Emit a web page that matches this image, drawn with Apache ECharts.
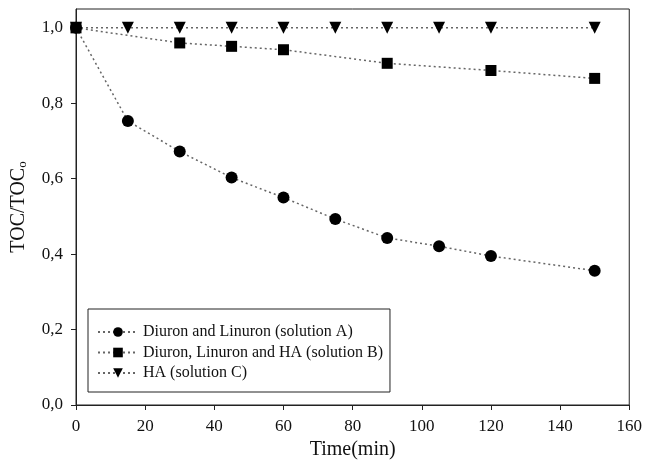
<!DOCTYPE html>
<html><head><meta charset="utf-8">
<script src="https://cdn.jsdelivr.net/npm/echarts@6/dist/echarts.min.js"></script>
<style>html,body{margin:0;padding:0;background:#fff}#c{width:645px;height:465px}</style>
</head><body><div id="c"></div>
<script>
const timeA = [0, 15, 30, 45, 60, 75, 90, 105, 120, 150];
const valuesA = [1.0, 0.753, 0.672, 0.603, 0.550, 0.493, 0.443, 0.421, 0.395, 0.356];
const timeB = [0, 30, 45, 60, 90, 120, 150];
const valuesB = [1.0, 0.960, 0.951, 0.942, 0.906, 0.887, 0.866];
const timeC = [0, 15, 30, 45, 60, 75, 90, 105, 120, 150];
const valuesC = [1.0, 1.0, 1.0, 1.0, 1.0, 1.0, 1.0, 1.0, 1.0, 1.0];
const seriesNames = ['Diuron and Linuron (solution A)', 'Diuron, Linuron and HA (solution B)', 'HA (solution C)'];
const yTicks = [0, 0.2, 0.4, 0.6, 0.8, 1.0];
const xTicks = [0, 20, 40, 60, 80, 100, 120, 140, 160];

const font = 'Liberation Serif';
const zip = (t, v) => t.map((x, i) => [x, v[i]]);
const lineStyle = { type: [2, 3], color: '#666', width: 1.5 };
const chart = echarts.init(document.getElementById('c'));
chart.setOption({
  animation: false,
  backgroundColor: '#fff',
  grid: { left: 76, right: 14, top: 9, bottom: 59, show: true, borderColor: '#222', borderWidth: 1 },
  xAxis: {
    type: 'value', min: 0, max: 160, interval: 20,
    axisLine: { lineStyle: { color: '#222' } },
    axisTick: { show: true, inside: false, length: 5, customValues: xTicks, lineStyle: { color: '#222' } },
    axisLabel: { fontFamily: font, fontSize: 17, color: '#111', margin: 13, customValues: xTicks },
    splitLine: { show: false },
    name: 'Time(min)', nameLocation: 'middle', nameGap: 35,
    nameTextStyle: { fontFamily: font, fontSize: 20, color: '#111' }
  },
  yAxis: {
    type: 'value', min: 0, max: 1.05,
    axisLine: { show: true, lineStyle: { color: '#222' } },
    axisTick: { show: true, inside: false, length: 5, customValues: yTicks, lineStyle: { color: '#222' } },
    axisLabel: { fontFamily: font, fontSize: 17, color: '#111', margin: 13, customValues: yTicks,
      formatter: v => v.toFixed(1).replace('.', ',') },
    splitLine: { show: false },
    name: '{m|TOC/TOC}{s|o}', nameLocation: 'middle', nameGap: 47, nameRotate: 90,
    nameTextStyle: { fontFamily: font, fontSize: 20, color: '#111',
      rich: { m: { fontFamily: font, fontSize: 20, color: '#111' },
              s: { fontFamily: font, fontSize: 13, color: '#111', verticalAlign: 'bottom', padding: [8, 0, 0, 0] } } }
  },
  legend: {
    orient: 'vertical', left: 88, top: 309,
    borderColor: '#222', borderWidth: 1, backgroundColor: '#fff',
    padding: [15, 7, 11, 9], itemGap: 4.5, itemWidth: 40, itemHeight: 12,
    textStyle: { fontFamily: font, fontSize: 16, color: '#111' },
    data: seriesNames
  },
  series: [
    { name: seriesNames[0], type: 'line', data: zip(timeA, valuesA), symbol: 'circle', symbolSize: 12,
      itemStyle: { color: '#000' }, lineStyle: lineStyle },
    { name: seriesNames[1], type: 'line', data: zip(timeB, valuesB), symbol: 'rect', symbolSize: 11,
      itemStyle: { color: '#000' }, lineStyle: lineStyle },
    { name: seriesNames[2], type: 'line', data: zip(timeC, valuesC), symbol: 'triangle', symbolRotate: 180, symbolSize: 12,
      itemStyle: { color: '#000' }, lineStyle: lineStyle }
  ]
});
</script></body></html>
